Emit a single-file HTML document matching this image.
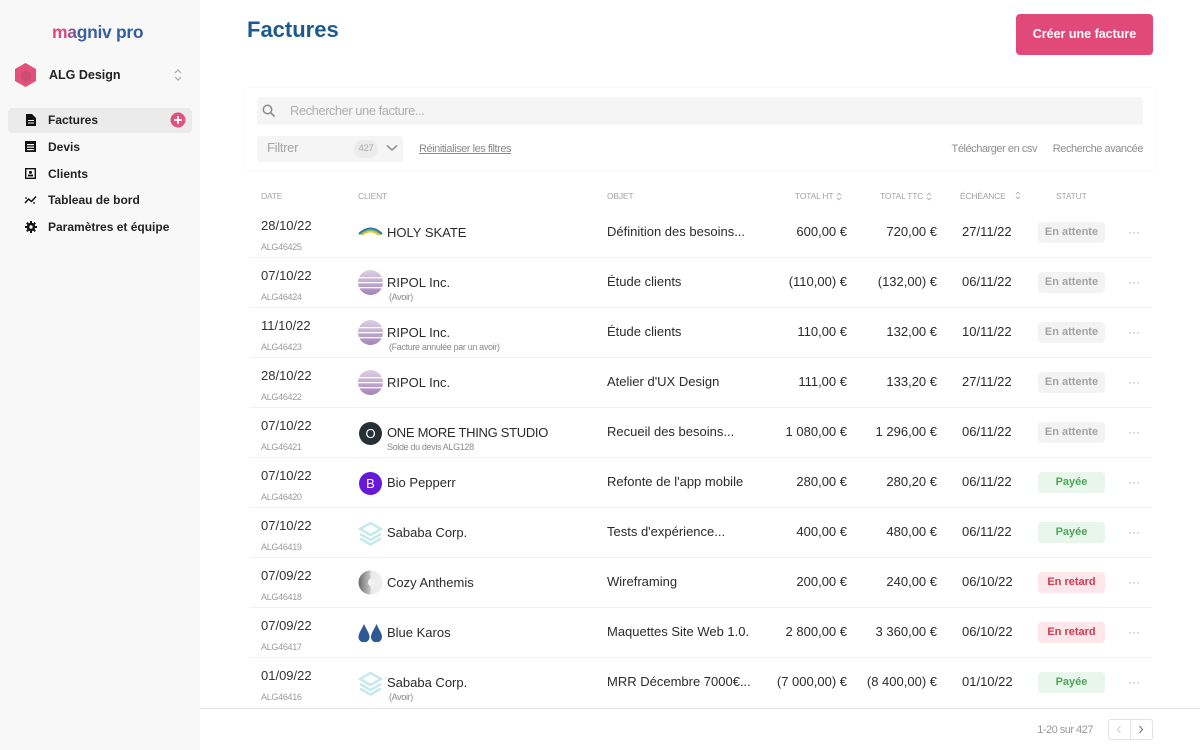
<!DOCTYPE html>
<html><head><meta charset="utf-8">
<style>
*{margin:0;padding:0;box-sizing:border-box}
body{width:1200px;height:750px;overflow:hidden;background:#fff;font-family:"Liberation Sans",Arial,sans-serif;color:#2b2b2b;position:relative}
.a{position:absolute;white-space:nowrap}
#side{position:absolute;left:0;top:0;width:200px;height:750px;background:#f8f8f8}
.logo{left:52px;top:21px;font-size:17.5px;font-weight:bold;line-height:22px;letter-spacing:-0.3px;background:linear-gradient(90deg,#e0497a 0%,#d84a82 14%,#3c5fa3 30%,#2f5c9e 100%);-webkit-background-clip:text;background-clip:text;color:transparent}
.nav{left:48px;font-size:12px;font-weight:bold;color:#222;line-height:16px}
.row{position:absolute;left:0;width:1200px;height:50px}
.sep{position:absolute;left:250px;width:902px;top:49px;height:1px;background:#f1f1f1}
.date{left:261px;top:10px;font-size:13px;line-height:16px;color:#333}
.id{left:261px;top:33px;font-size:9px;line-height:12px;color:#9a9a9a;letter-spacing:-0.3px}
.name{left:387px;top:17px;font-size:13px;line-height:16px;color:#2b2b2b}
.sub{left:389px;top:33px;font-size:9px;line-height:12px;color:#8a8a8a;letter-spacing:-0.35px}
.obj{left:607px;top:16px;font-size:13px;line-height:16px;color:#2b2b2b}
.ht{right:353px;top:16px;font-size:13px;line-height:16px;color:#2b2b2b}
.ttc{right:263px;top:16px;font-size:13px;line-height:16px;color:#2b2b2b}
.ech{left:962px;top:16px;font-size:13px;line-height:16px;color:#2b2b2b}
.bd{left:1038px;top:14px;width:67px;height:21px;border-radius:4px;font-size:11px;font-weight:bold;line-height:21px;text-align:center}
.wait{background:#f3f3f3;color:#a3a3a3}
.paid{background:#e9f6eb;color:#4ea65e}
.late{background:#fde7ea;color:#cc3a4e}
.dots{left:1128px;top:16px;font-size:12px;color:#aaa;line-height:16px}
.ic{position:absolute;left:358px;top:13px;width:25px;height:25px}
.hd{top:190px;font-size:8.5px;line-height:12px;color:#a5a5a5;letter-spacing:-0.2px}
.sort{display:inline-block;vertical-align:middle;margin-left:3px}
</style></head><body>

<div id="side"></div>
<div class="a logo">magniv pro</div>

<svg class="a" style="left:13px;top:62px" width="25" height="26" viewBox="0 0 25 26">
<polygon points="12.5,1 23,7 23,19 12.5,25 2,19 2,7" fill="#e2507c"/>
<polygon points="12.5,8 18,11 18,17 12.5,20 8,17 8,12" fill="#c04a6e" opacity="0.6"/>
</svg>
<div class="a" style="left:49px;top:67px;font-size:12.5px;font-weight:bold;line-height:16px;color:#222">ALG Design</div>
<svg class="a" style="left:173px;top:67px" width="10" height="16" viewBox="0 0 10 16"><path d="M2 6 L5 3 L8 6 M2 10 L5 13 L8 10" fill="none" stroke="#aaa" stroke-width="1.2"/></svg>

<div class="a" style="left:8px;top:108px;width:184px;height:25px;background:#ebebeb;border-radius:4px"></div>
<svg class="a" style="left:26px;top:114px" width="10" height="12" viewBox="0 0 10 12"><path d="M0 0 H6 L10 4 V12 H0Z" fill="#111"/><rect x="2" y="6" width="6" height="1" fill="#eee"/><rect x="2" y="8.5" width="6" height="1" fill="#eee"/></svg>
<div class="a nav" style="top:112px">Factures</div>
<svg class="a" style="left:170px;top:112px" width="16" height="16" viewBox="0 0 16 16"><circle cx="8" cy="8" r="7.5" fill="#e2507c"/><path d="M8 4 V12 M4 8 H12" stroke="#fff" stroke-width="1.8"/></svg>

<svg class="a" style="left:25px;top:141px" width="11" height="11" viewBox="0 0 11 11"><rect x="0" y="0" width="11" height="11" fill="#111"/><rect x="2" y="3" width="7" height="1.2" fill="#fff"/><rect x="2" y="5.5" width="7" height="1.2" fill="#fff"/><rect x="2" y="8" width="7" height="1.2" fill="#fff"/></svg>
<div class="a nav" style="top:139px">Devis</div>

<svg class="a" style="left:25px;top:168px" width="11" height="11" viewBox="0 0 11 11"><rect x="0.7" y="0.7" width="9.6" height="9.6" fill="none" stroke="#111" stroke-width="1.4"/><circle cx="5.5" cy="4.4" r="1.5" fill="#111"/><rect x="3" y="6.6" width="5" height="1.8" fill="#111"/></svg>
<div class="a nav" style="top:166px">Clients</div>

<svg class="a" style="left:24px;top:195px" width="13" height="10" viewBox="0 0 13 10"><path d="M1 8 L4.5 4 L7.5 6.5 L12 1.5" fill="none" stroke="#111" stroke-width="1.5"/><circle cx="2" cy="3" r="0.9" fill="#111"/><circle cx="10" cy="8" r="0.9" fill="#111"/></svg>
<div class="a nav" style="top:192px">Tableau de bord</div>

<svg class="a" style="left:25px;top:221px" width="12" height="12" viewBox="0 0 12 12"><g fill="#111"><circle cx="6" cy="6" r="4.2"/><rect x="5" y="0" width="2" height="12"/><rect x="0" y="5" width="12" height="2"/><rect x="5" y="0" width="2" height="12" transform="rotate(45 6 6)"/><rect x="5" y="0" width="2" height="12" transform="rotate(-45 6 6)"/></g><circle cx="6" cy="6" r="1.7" fill="#f8f8f8"/></svg>
<div class="a nav" style="top:219px">Paramètres et équipe</div>

<div class="a" style="left:247px;top:16px;font-size:22px;font-weight:bold;line-height:28px;color:#1b5a8f">Factures</div>
<div class="a" style="left:1016px;top:14px;width:137px;height:41px;background:#e1497a;border-radius:4px;color:#fff;font-size:12.5px;font-weight:bold;line-height:41px;text-align:center">Créer une facture</div>

<div class="a" style="left:246px;top:88px;width:908px;height:82px;background:#fff;border-radius:4px;box-shadow:0 0 4px rgba(0,0,0,0.06)"></div>
<div class="a" style="left:257px;top:97px;width:886px;height:28px;background:#f5f5f5;border-radius:3px"></div>
<svg class="a" style="left:262px;top:104px" width="14" height="14" viewBox="0 0 14 14"><circle cx="5.5" cy="5.5" r="4.2" fill="none" stroke="#8a8a8a" stroke-width="1.5"/><path d="M8.7 8.7 L12.5 12.5" stroke="#8a8a8a" stroke-width="1.6"/></svg>
<div class="a" style="left:290px;top:103px;font-size:13px;line-height:16px;color:#b0b0b0;letter-spacing:-0.5px">Rechercher une facture...</div>

<div class="a" style="left:257px;top:136px;width:146px;height:26px;background:#f5f5f5;border-radius:3px"></div>
<div class="a" style="left:267px;top:140px;font-size:13px;line-height:16px;color:#a5a5a5;letter-spacing:-0.3px">Filtrer</div>
<div class="a" style="left:354px;top:140px;width:24px;height:18px;background:#ececec;border-radius:9px;font-size:9.5px;line-height:18px;color:#aaa;text-align:center;letter-spacing:-0.3px">427</div>
<svg class="a" style="left:386px;top:144px" width="12" height="8" viewBox="0 0 12 8"><path d="M1 1.5 L6 6 L11 1.5" fill="none" stroke="#888" stroke-width="1.5"/></svg>
<div class="a" style="left:419px;top:142px;font-size:11px;line-height:14px;color:#8a8a8a;text-decoration:underline;letter-spacing:-0.45px">Réinitialiser les filtres</div>
<div class="a" style="right:163px;top:142px;font-size:11px;line-height:14px;color:#8f8f8f;letter-spacing:-0.45px">Télécharger en csv</div>
<div class="a" style="right:57px;top:142px;font-size:11px;line-height:14px;color:#8f8f8f;letter-spacing:-0.45px">Recherche avancée</div>

<div class="a hd" style="left:261px">DATE</div>
<div class="a hd" style="left:358px">CLIENT</div>
<div class="a hd" style="left:607px">OBJET</div>
<div class="a hd" style="left:795px">TOTAL HT<svg class="sort" width="6" height="9" viewBox="0 0 6 9"><path d="M1 3.2 L3 1.2 L5 3.2 M1 5.8 L3 7.8 L5 5.8" fill="none" stroke="#aaa" stroke-width="0.9"/></svg></div>
<div class="a hd" style="left:880px">TOTAL TTC<svg class="sort" width="6" height="9" viewBox="0 0 6 9"><path d="M1 3.2 L3 1.2 L5 3.2 M1 5.8 L3 7.8 L5 5.8" fill="none" stroke="#aaa" stroke-width="0.9"/></svg></div>
<div class="a hd" style="left:960px">ÉCHÉANCE</div>
<svg class="a" style="left:1015px;top:191px" width="6" height="9" viewBox="0 0 6 9"><path d="M1 3.2 L3 1.2 L5 3.2 M1 5.8 L3 7.8 L5 5.8" fill="none" stroke="#aaa" stroke-width="0.9"/></svg>
<div class="a hd" style="left:1056px">STATUT</div>

<svg width="0" height="0" style="position:absolute">
<defs>
<linearGradient id="rip" x1="0" y1="0" x2="0" y2="1"><stop offset="0" stop-color="#ddd0e6"/><stop offset="1" stop-color="#a583b8"/></linearGradient>
<linearGradient id="cozy" x1="0" y1="0" x2="1" y2="0"><stop offset="0" stop-color="#6b6b6b"/><stop offset="0.5" stop-color="#c8c8c8"/><stop offset="1" stop-color="#eeeeee"/></linearGradient>
<clipPath id="c1"><circle cx="12.5" cy="12.5" r="12.5"/></clipPath>
</defs>
</svg>

<div class="row" style="top:208px">
<svg class="ic" style="top:17px;height:10px" viewBox="0 0 25 10"><path d="M1 9 Q12.5 -2 24 9" fill="none" stroke="#2f6aa8" stroke-width="2"/><path d="M2.5 9.5 Q12.5 0.5 22.5 9.5" fill="none" stroke="#55b37a" stroke-width="2"/><path d="M4 10 Q12.5 3 21 10" fill="none" stroke="#f2c531" stroke-width="2"/></svg>
<div class="a date">28/10/22</div><div class="a id">ALG46425</div>
<div class="a name">HOLY SKATE</div>
<div class="a obj">Définition des besoins...</div>
<div class="a ht">600,00 €</div><div class="a ttc">720,00 €</div><div class="a ech">27/11/22</div>
<div class="a bd wait">En attente</div><div class="a dots">···</div>
<div class="sep"></div></div>

<div class="row" style="top:258px">
<svg class="ic" style="top:12px" viewBox="0 0 25 25"><g clip-path="url(#c1)"><rect width="25" height="25" fill="url(#rip)"/><rect y="7" width="25" height="1.3" fill="#fff"/><rect y="12" width="25" height="1.3" fill="#fff"/><rect y="17" width="25" height="1.3" fill="#fff"/></g></svg>
<div class="a date">07/10/22</div><div class="a id">ALG46424</div>
<div class="a name">RIPOL Inc.</div><div class="a sub">(Avoir)</div>
<div class="a obj">Étude clients</div>
<div class="a ht">(110,00) €</div><div class="a ttc">(132,00) €</div><div class="a ech">06/11/22</div>
<div class="a bd wait">En attente</div><div class="a dots">···</div>
<div class="sep"></div></div>

<div class="row" style="top:308px">
<svg class="ic" style="top:12px" viewBox="0 0 25 25"><g clip-path="url(#c1)"><rect width="25" height="25" fill="url(#rip)"/><rect y="7" width="25" height="1.3" fill="#fff"/><rect y="12" width="25" height="1.3" fill="#fff"/><rect y="17" width="25" height="1.3" fill="#fff"/></g></svg>
<div class="a date">11/10/22</div><div class="a id">ALG46423</div>
<div class="a name">RIPOL Inc.</div><div class="a sub">(Facture annulée par un avoir)</div>
<div class="a obj">Étude clients</div>
<div class="a ht">110,00 €</div><div class="a ttc">132,00 €</div><div class="a ech">10/11/22</div>
<div class="a bd wait">En attente</div><div class="a dots">···</div>
<div class="sep"></div></div>

<div class="row" style="top:358px">
<svg class="ic" style="top:12px" viewBox="0 0 25 25"><g clip-path="url(#c1)"><rect width="25" height="25" fill="url(#rip)"/><rect y="7" width="25" height="1.3" fill="#fff"/><rect y="12" width="25" height="1.3" fill="#fff"/><rect y="17" width="25" height="1.3" fill="#fff"/></g></svg>
<div class="a date">28/10/22</div><div class="a id">ALG46422</div>
<div class="a name">RIPOL Inc.</div>
<div class="a obj">Atelier d'UX Design</div>
<div class="a ht">111,00 €</div><div class="a ttc">133,20 €</div><div class="a ech">27/11/22</div>
<div class="a bd wait">En attente</div><div class="a dots">···</div>
<div class="sep"></div></div>

<div class="row" style="top:408px">
<div class="a" style="left:359px;top:14px;width:23px;height:23px;border-radius:50%;background:#263035;color:#fff;font-size:13px;line-height:23px;text-align:center">O</div>
<div class="a date">07/10/22</div><div class="a id">ALG46421</div>
<div class="a name" style="letter-spacing:-0.3px">ONE MORE THING STUDIO</div><div class="a sub" style="left:387px">Solde du devis ALG128</div>
<div class="a obj">Recueil des besoins...</div>
<div class="a ht">1 080,00 €</div><div class="a ttc">1 296,00 €</div><div class="a ech">06/11/22</div>
<div class="a bd wait">En attente</div><div class="a dots">···</div>
<div class="sep"></div></div>

<div class="row" style="top:458px">
<div class="a" style="left:359px;top:14px;width:23px;height:23px;border-radius:50%;background:#6619d6;color:#fff;font-size:13px;line-height:23px;text-align:center">B</div>
<div class="a date">07/10/22</div><div class="a id">ALG46420</div>
<div class="a name">Bio Pepperr</div>
<div class="a obj">Refonte de l'app mobile</div>
<div class="a ht">280,00 €</div><div class="a ttc">280,20 €</div><div class="a ech">06/11/22</div>
<div class="a bd paid">Payée</div><div class="a dots">···</div>
<div class="sep"></div></div>

<div class="row" style="top:508px">
<svg class="ic" style="top:13px" viewBox="0 0 25 25"><g fill="none" stroke="#c6e9ee" stroke-width="2.5"><path d="M12.5 2 L23 8 L12.5 14 L2 8Z"/><path d="M2 13 L12.5 19 L23 13"/><path d="M2 17.5 L12.5 23.5 L23 17.5"/></g></svg>
<div class="a date">07/10/22</div><div class="a id">ALG46419</div>
<div class="a name">Sababa Corp.</div>
<div class="a obj">Tests d'expérience...</div>
<div class="a ht">400,00 €</div><div class="a ttc">480,00 €</div><div class="a ech">06/11/22</div>
<div class="a bd paid">Payée</div><div class="a dots">···</div>
<div class="sep"></div></div>

<div class="row" style="top:558px">
<svg class="ic" style="top:12px" viewBox="0 0 25 25"><circle cx="12.5" cy="12.5" r="12" fill="url(#cozy)"/><circle cx="14" cy="12.5" r="4" fill="#f5f5f5"/><path d="M12.5 0.5 A12 12 0 0 1 12.5 24.5Z" fill="#f0f0f0" opacity="0.85"/></svg>
<div class="a date">07/09/22</div><div class="a id">ALG46418</div>
<div class="a name">Cozy Anthemis</div>
<div class="a obj">Wireframing</div>
<div class="a ht">200,00 €</div><div class="a ttc">240,00 €</div><div class="a ech">06/10/22</div>
<div class="a bd late">En retard</div><div class="a dots">···</div>
<div class="sep"></div></div>

<div class="row" style="top:608px">
<svg class="ic" style="top:16px;height:18px" viewBox="0 0 25 18"><path d="M6 0 C8 5 11.5 9 11.5 13 A5.5 5.5 0 0 1 0.5 13 C0.5 9 4 5 6 0Z" fill="#2d5a94"/><path d="M18.5 0 C20.5 5 24 9 24 13 A5.5 5.5 0 0 1 13 13 C13 9 16.5 5 18.5 0Z" fill="#2d5a94"/></svg>
<div class="a date">07/09/22</div><div class="a id">ALG46417</div>
<div class="a name">Blue Karos</div>
<div class="a obj">Maquettes Site Web 1.0.</div>
<div class="a ht">2 800,00 €</div><div class="a ttc">3 360,00 €</div><div class="a ech">06/10/22</div>
<div class="a bd late">En retard</div><div class="a dots">···</div>
<div class="sep"></div></div>

<div class="row" style="top:658px">
<svg class="ic" style="top:13px" viewBox="0 0 25 25"><g fill="none" stroke="#c6e9ee" stroke-width="2.5"><path d="M12.5 2 L23 8 L12.5 14 L2 8Z"/><path d="M2 13 L12.5 19 L23 13"/><path d="M2 17.5 L12.5 23.5 L23 17.5"/></g></svg>
<div class="a date">01/09/22</div><div class="a id">ALG46416</div>
<div class="a name">Sababa Corp.</div><div class="a sub">(Avoir)</div>
<div class="a obj">MRR Décembre 7000€...</div>
<div class="a ht">(7 000,00) €</div><div class="a ttc">(8 400,00) €</div><div class="a ech">01/10/22</div>
<div class="a bd paid">Payée</div><div class="a dots">···</div>
</div>

<div class="a" style="left:200px;top:708px;width:1000px;height:1px;background:#e4e4e4"></div>
<div class="a" style="right:107px;top:723px;font-size:11px;line-height:14px;color:#999;letter-spacing:-0.5px">1-20 sur 427</div>
<div class="a" style="left:1108px;top:719px;width:45px;height:21px;border:1px solid #e2e2e2;border-radius:3px"></div>
<div class="a" style="left:1130px;top:719px;width:1px;height:21px;background:#e2e2e2"></div>
<svg class="a" style="left:1116px;top:725px" width="6" height="9" viewBox="0 0 6 9"><path d="M4.5 1 L1.5 4.5 L4.5 8" fill="none" stroke="#ccc" stroke-width="1"/></svg>
<svg class="a" style="left:1138px;top:725px" width="6" height="9" viewBox="0 0 6 9"><path d="M1.5 1 L4.5 4.5 L1.5 8" fill="none" stroke="#777" stroke-width="1.1"/></svg>
</body></html>
